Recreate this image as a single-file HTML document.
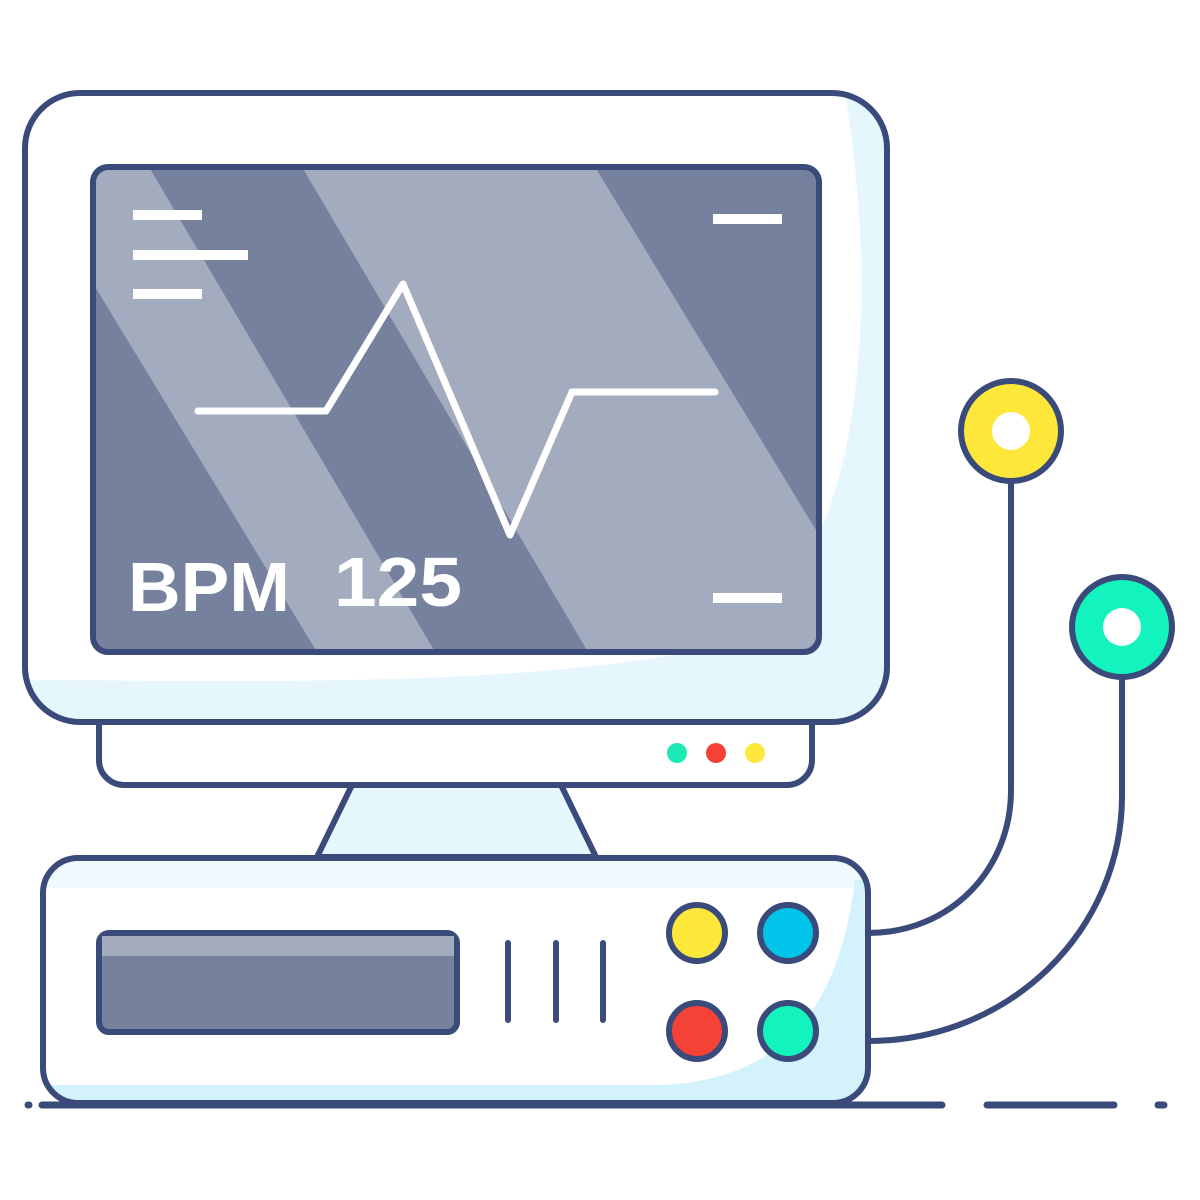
<!DOCTYPE html>
<html><head><meta charset="utf-8"><style>html,body{margin:0;padding:0;background:#fff}svg{display:block}</style></head>
<body>
<svg width="1200" height="1200" viewBox="0 0 1200 1200" xmlns="http://www.w3.org/2000/svg">
<defs>
<clipPath id="scr"><rect x="96" y="170" width="720" height="479" rx="13"/></clipPath>
<clipPath id="mon"><rect x="25" y="93" width="862" height="629" rx="55"/></clipPath>
<clipPath id="box"><rect x="43" y="858" width="825" height="245" rx="35"/></clipPath>
</defs>
<g stroke="#3a4a7a" stroke-width="6" stroke-linecap="round" fill="none">
<path d="M868 933 C950 933 1011 870 1011 790 L1011 482"/>
<path d="M868 1041 C1010 1041 1122 930 1122 796 L1122 678"/>
</g>
<circle cx="1011" cy="431" r="50" fill="#fde73a" stroke="#3a4a7a" stroke-width="6"/>
<circle cx="1011" cy="431" r="19" fill="#fff"/>
<circle cx="1122" cy="627" r="50" fill="#12f3bd" stroke="#3a4a7a" stroke-width="6"/>
<circle cx="1122" cy="627" r="19" fill="#fff"/>
<rect x="99" y="700" width="713" height="85" rx="25" fill="#fff" stroke="#3a4a7a" stroke-width="6"/>
<circle cx="677" cy="753" r="10" fill="#1de9b6"/>
<circle cx="716" cy="753" r="10" fill="#f44336"/>
<circle cx="755" cy="753" r="10" fill="#fde83b"/>
<path d="M352 785 L561 785 L596 857 L317 857 Z" fill="#e6f6fd" stroke="#3a4a7a" stroke-width="6" stroke-linejoin="round"/>
<rect x="25" y="93" width="862" height="629" rx="55" fill="#fff"/>
<g clip-path="url(#mon)">
<path d="M845 93 C880 300 870 600 700 650 C500 690 200 680 25 680 L25 722 L887 722 L887 93 Z" fill="#e6f6fd"/>
</g>
<rect x="25" y="93" width="862" height="629" rx="55" fill="none" stroke="#3a4a7a" stroke-width="6"/>
<rect x="93" y="167" width="726" height="485" rx="15" fill="#76819e" stroke="#3a4a7a" stroke-width="6"/>
<g clip-path="url(#scr)">
<polygon points="80,167 149,167 435,652 317,652 80,262" fill="#a3acbe"/>
<polygon points="302,167 595,167 819,535 819,652 588,652" fill="#a3acbe"/>
</g>
<g stroke="#fff" stroke-width="10">
<line x1="133" y1="215" x2="202" y2="215"/>
<line x1="133" y1="255" x2="248" y2="255"/>
<line x1="133" y1="294" x2="202" y2="294"/>
<line x1="713" y1="219" x2="782" y2="219"/>
<line x1="713" y1="598" x2="782" y2="598"/>
</g>
<polyline points="198,411 326,411 403,284 510,535 572,392 715,392" fill="none" stroke="#fff" stroke-width="7" stroke-linecap="round" stroke-linejoin="round"/>
<text x="128" y="611" font-family="Liberation Sans, sans-serif" font-weight="bold" font-size="70" fill="#fff" textLength="162" lengthAdjust="spacingAndGlyphs">BPM</text>
<text x="334" y="606" font-family="Liberation Sans, sans-serif" font-weight="bold" font-size="70" fill="#fff" textLength="128" lengthAdjust="spacingAndGlyphs">125</text>
<rect x="43" y="858" width="825" height="245" rx="35" fill="#fff"/>
<g clip-path="url(#box)">
<rect x="43" y="858" width="825" height="30" fill="#eefafe"/>
<path d="M855 880 C840 1000 790 1080 660 1085 L43 1085 L43 1103 L868 1103 L868 880 Z" fill="#d4f2fb"/>
</g>
<rect x="43" y="858" width="825" height="245" rx="35" fill="none" stroke="#3a4a7a" stroke-width="6"/>
<rect x="99" y="933" width="358" height="99" rx="10" fill="#76819e" stroke="#3a4a7a" stroke-width="6"/>
<rect x="102" y="936" width="352" height="20" fill="#a3acbe"/>
<g stroke="#3a4a7a" stroke-width="6" stroke-linecap="round">
<line x1="508" y1="943" x2="508" y2="1020"/>
<line x1="556" y1="943" x2="556" y2="1020"/>
<line x1="603" y1="943" x2="603" y2="1020"/>
</g>
<g stroke="#3a4a7a" stroke-width="6">
<circle cx="697" cy="933" r="28" fill="#fde73a"/>
<circle cx="788" cy="933" r="28" fill="#00c4ea"/>
<circle cx="697" cy="1031" r="28" fill="#f44336"/>
<circle cx="788" cy="1031" r="28" fill="#12f3bd"/>
</g>
<g stroke="#3a4a7a" stroke-width="7" stroke-linecap="round">
<line x1="28" y1="1105" x2="29" y2="1105"/>
<line x1="42" y1="1105" x2="942" y2="1105"/>
<line x1="987" y1="1105" x2="1114" y2="1105"/>
<line x1="1158" y1="1105" x2="1164" y2="1105"/>
</g>
</svg>
</body></html>
